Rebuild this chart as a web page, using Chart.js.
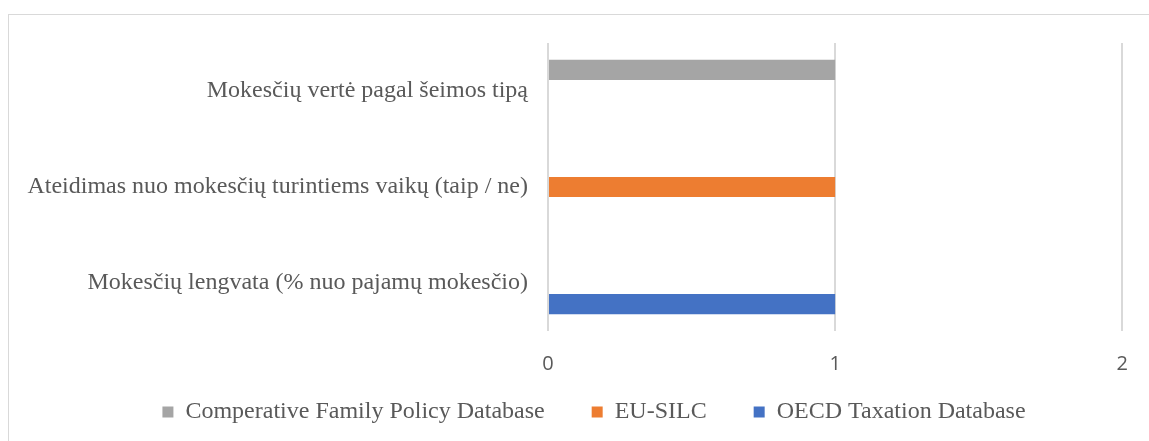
<!DOCTYPE html>
<html>
<head>
<meta charset="utf-8">
<script src="https://cdn.jsdelivr.net/npm/chart.js@4.4.0/dist/chart.umd.min.js"></script>
<style>
    html, body { margin: 0; padding: 0; background: #fff; overflow: hidden; }
    .frame { position: absolute; left: 8px; top: 14px; width: 1300px; height: 600px; border: 1px solid #d9d9d9; }
    .chart-box { position: absolute; left: 0; top: 0; width: 1149px; height: 441px; }
</style>
</head>
<body>
<div class="frame"></div>
<div class="chart-box"><canvas id="policyChart"></canvas></div>
<script>
// categories, top to bottom
const categories = [
    "Mokesčių vertė pagal šeimos tipą",
    "Ateidimas nuo mokesčių turintiems vaikų (taip / ne)",
    "Mokesčių lengvata (% nuo pajamų mokesčio)"
];
const seriesNames = ["Comperative Family Policy Database", "EU-SILC", "OECD Taxation Database"];
const familyPolicyValues = [1, null, null];
const euSilcValues = [null, 1, null];
const oecdValues = [null, null, 1];
const xTicks = [0, 1, 2];

const seriesColors = ["#a5a5a5", "#ed7d31", "#4472c4"];
const textColor = "#595959";

// tick labels may spill past their axis box (like the Excel original)
function noLabelClip(scale) {
    scale._computeLabelArea = () => undefined;
}

document.addEventListener("DOMContentLoaded", () => {
    const ctx = document.getElementById('policyChart').getContext('2d');
    const allValues = [familyPolicyValues, euSilcValues, oecdValues];

    new Chart(ctx, {
        type: 'bar',
        data: {
            labels: categories,
            datasets: seriesNames.map((name, i) => ({
                label: name,
                data: allValues[i],
                backgroundColor: seriesColors[i],
                borderWidth: 0,
                categoryPercentage: 0.66,
                barPercentage: 0.95
            }))
        },
        options: {
            indexAxis: 'y',
            responsive: false,
            animation: false,
            maintainAspectRatio: false,
            layout: { padding: { top: 43, right: 9, left: 48, bottom: 7 } },
            plugins: {
                tooltip: { enabled: false },
                legend: {
                    position: 'bottom',
                    labels: {
                        boxWidth: 11,
                        boxHeight: 11,
                        padding: 47,
                        color: textColor,
                        font: { family: "'Liberation Serif', 'Times New Roman', serif", size: 24 }
                    }
                }
            },
            scales: {
                x: {
                    min: 0,
                    max: 2,
                    afterBuildTicks: (scale) => { scale.ticks = xTicks.map(v => ({ value: v })); },
                    afterFit: (scale) => { scale.height = 22; noLabelClip(scale); },
                    border: { display: false },
                    grid: { color: '#d9d9d9', lineWidth: 2, drawTicks: false },
                    ticks: {
                        padding: 21,
                        color: textColor,
                        font: { family: "'Open Sans', 'Liberation Sans', sans-serif", size: 20 }
                    }
                },
                y: {
                    afterFit: (scale) => { scale.width = 500; noLabelClip(scale); },
                    border: { display: false },
                    grid: { display: false, drawTicks: false },
                    ticks: {
                        padding: 20,
                        color: textColor,
                        font: { family: "'Liberation Serif', 'Times New Roman', serif", size: 24 }
                    }
                }
            }
        }
    });
});
</script>
<script>
    // size canvas to the photographed window
    const c = document.getElementById('policyChart');
    c.width = 1149; c.height = 441;
    c.style.width = '1149px'; c.style.height = '441px';
</script>
</body>
</html>
